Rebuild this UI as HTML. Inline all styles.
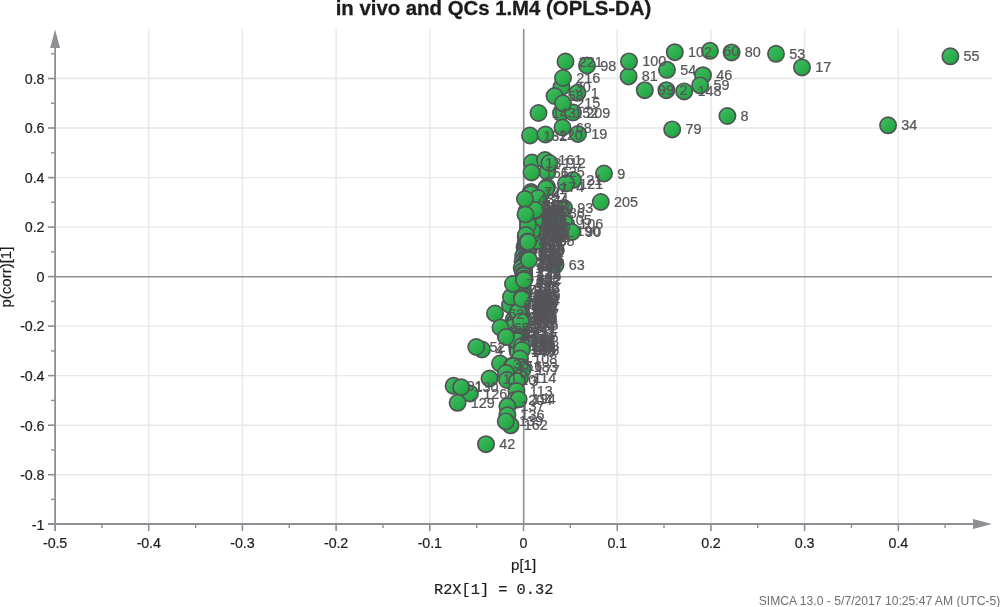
<!DOCTYPE html>
<html lang="en"><head><meta charset="utf-8"><title>in vivo and QCs 1.M4 (OPLS-DA)</title>
<style>html,body{margin:0;padding:0;background:#fff;}body{width:1000px;height:607px;overflow:hidden;}svg{display:block;}text{font-family:"Liberation Sans",sans-serif;}.tk{font-size:15.4px;letter-spacing:-0.15px;fill:#1e1e1e;stroke:#1e1e1e;stroke-width:0.2px;}.lb{font-size:15.5px;letter-spacing:0px;fill:#56565a;stroke:#56565a;stroke-width:0.25px;}.al{font-size:15px;fill:#1e1e1e;stroke:#1e1e1e;stroke-width:0.2px;}.mono{font-family:"Liberation Mono",monospace;}</style></head><body>
<svg width="1000" height="607" viewBox="0 0 1000 607">
<defs><linearGradient id="g" x1="0.15" y1="0.1" x2="0.85" y2="0.9"><stop offset="0" stop-color="#3fbb60"/><stop offset="1" stop-color="#1ea63e"/></linearGradient></defs>
<rect width="1000" height="607" fill="#fff"/>
<g stroke="#e6e8e9" stroke-width="1.4" fill="none">
<line x1="148.7" y1="29" x2="148.7" y2="524"/>
<line x1="242.4" y1="29" x2="242.4" y2="524"/>
<line x1="336.1" y1="29" x2="336.1" y2="524"/>
<line x1="429.8" y1="29" x2="429.8" y2="524"/>
<line x1="617.2" y1="29" x2="617.2" y2="524"/>
<line x1="710.9" y1="29" x2="710.9" y2="524"/>
<line x1="804.6" y1="29" x2="804.6" y2="524"/>
<line x1="898.3" y1="29" x2="898.3" y2="524"/>
<line x1="55" y1="474.7" x2="992" y2="474.7"/>
<line x1="55" y1="425.2" x2="992" y2="425.2"/>
<line x1="55" y1="375.6" x2="992" y2="375.6"/>
<line x1="55" y1="326.1" x2="992" y2="326.1"/>
<line x1="55" y1="227.1" x2="992" y2="227.1"/>
<line x1="55" y1="177.6" x2="992" y2="177.6"/>
<line x1="55" y1="128.0" x2="992" y2="128.0"/>
<line x1="55" y1="78.5" x2="992" y2="78.5"/>
</g>
<g stroke="#8e8f94" fill="none">
<line x1="523.7" y1="29" x2="523.7" y2="524" stroke-width="1.6"/>
<line x1="55" y1="276.7" x2="992" y2="276.7" stroke-width="1.4"/>
<line x1="55.1" y1="46" x2="55.1" y2="531" stroke-width="1.8"/>
<line x1="48" y1="524.0" x2="975" y2="524.0" stroke-width="1.9"/>
<line x1="101.9" y1="524" x2="101.9" y2="528" stroke-width="1.4"/>
<line x1="148.7" y1="524" x2="148.7" y2="531" stroke-width="1.6"/>
<line x1="195.6" y1="524" x2="195.6" y2="528" stroke-width="1.4"/>
<line x1="242.4" y1="524" x2="242.4" y2="531" stroke-width="1.6"/>
<line x1="289.3" y1="524" x2="289.3" y2="528" stroke-width="1.4"/>
<line x1="336.1" y1="524" x2="336.1" y2="531" stroke-width="1.6"/>
<line x1="383.0" y1="524" x2="383.0" y2="528" stroke-width="1.4"/>
<line x1="429.8" y1="524" x2="429.8" y2="531" stroke-width="1.6"/>
<line x1="476.7" y1="524" x2="476.7" y2="528" stroke-width="1.4"/>
<line x1="523.5" y1="524" x2="523.5" y2="531" stroke-width="1.6"/>
<line x1="570.3" y1="524" x2="570.3" y2="528" stroke-width="1.4"/>
<line x1="617.2" y1="524" x2="617.2" y2="531" stroke-width="1.6"/>
<line x1="664.0" y1="524" x2="664.0" y2="528" stroke-width="1.4"/>
<line x1="710.9" y1="524" x2="710.9" y2="531" stroke-width="1.6"/>
<line x1="757.7" y1="524" x2="757.7" y2="528" stroke-width="1.4"/>
<line x1="804.6" y1="524" x2="804.6" y2="531" stroke-width="1.6"/>
<line x1="851.4" y1="524" x2="851.4" y2="528" stroke-width="1.4"/>
<line x1="898.3" y1="524" x2="898.3" y2="531" stroke-width="1.6"/>
<line x1="945.1" y1="524" x2="945.1" y2="528" stroke-width="1.4"/>
<line x1="51" y1="499.4" x2="55" y2="499.4" stroke-width="1.4"/>
<line x1="48" y1="474.7" x2="55" y2="474.7" stroke-width="1.6"/>
<line x1="51" y1="449.9" x2="55" y2="449.9" stroke-width="1.4"/>
<line x1="48" y1="425.2" x2="55" y2="425.2" stroke-width="1.6"/>
<line x1="51" y1="400.4" x2="55" y2="400.4" stroke-width="1.4"/>
<line x1="48" y1="375.6" x2="55" y2="375.6" stroke-width="1.6"/>
<line x1="51" y1="350.9" x2="55" y2="350.9" stroke-width="1.4"/>
<line x1="48" y1="326.1" x2="55" y2="326.1" stroke-width="1.6"/>
<line x1="51" y1="301.4" x2="55" y2="301.4" stroke-width="1.4"/>
<line x1="48" y1="276.6" x2="55" y2="276.6" stroke-width="1.6"/>
<line x1="51" y1="251.8" x2="55" y2="251.8" stroke-width="1.4"/>
<line x1="48" y1="227.1" x2="55" y2="227.1" stroke-width="1.6"/>
<line x1="51" y1="202.3" x2="55" y2="202.3" stroke-width="1.4"/>
<line x1="48" y1="177.6" x2="55" y2="177.6" stroke-width="1.6"/>
<line x1="51" y1="152.8" x2="55" y2="152.8" stroke-width="1.4"/>
<line x1="48" y1="128.0" x2="55" y2="128.0" stroke-width="1.6"/>
<line x1="51" y1="103.3" x2="55" y2="103.3" stroke-width="1.4"/>
<line x1="48" y1="78.5" x2="55" y2="78.5" stroke-width="1.6"/>
<line x1="51" y1="53.8" x2="55" y2="53.8" stroke-width="1.4"/>
</g>
<polygon points="55.1,29.5 50.2,48 60,48" fill="#8e8f94"/>
<polygon points="992,524 973,519 973,529" fill="#8e8f94"/>
<g class="tk" text-anchor="middle">
<text transform="translate(55.1 548.3) scale(.93 1)">-0.5</text>
<text transform="translate(148.7 548.3) scale(.93 1)">-0.4</text>
<text transform="translate(242.4 548.3) scale(.93 1)">-0.3</text>
<text transform="translate(336.1 548.3) scale(.93 1)">-0.2</text>
<text transform="translate(429.8 548.3) scale(.93 1)">-0.1</text>
<text transform="translate(523.5 548.3) scale(.93 1)">0</text>
<text transform="translate(617.2 548.3) scale(.93 1)">0.1</text>
<text transform="translate(710.9 548.3) scale(.93 1)">0.2</text>
<text transform="translate(804.6 548.3) scale(.93 1)">0.3</text>
<text transform="translate(898.3 548.3) scale(.93 1)">0.4</text>
</g>
<g class="tk" text-anchor="end">
<text transform="translate(44.3 529.5) scale(.93 1)">-1</text>
<text transform="translate(44.3 480.0) scale(.93 1)">-0.8</text>
<text transform="translate(44.3 430.5) scale(.93 1)">-0.6</text>
<text transform="translate(44.3 380.9) scale(.93 1)">-0.4</text>
<text transform="translate(44.3 331.4) scale(.93 1)">-0.2</text>
<text transform="translate(44.3 281.9) scale(.93 1)">0</text>
<text transform="translate(44.3 232.4) scale(.93 1)">0.2</text>
<text transform="translate(44.3 182.9) scale(.93 1)">0.4</text>
<text transform="translate(44.3 133.3) scale(.93 1)">0.6</text>
<text transform="translate(44.3 83.8) scale(.93 1)">0.8</text>
</g>
<text x="335.7" y="14.7" font-size="19.3px" font-weight="bold" fill="#1c1c1c" stroke="#1c1c1c" stroke-width="0.3" textLength="315.5" lengthAdjust="spacingAndGlyphs">in vivo and QCs 1.M4 (OPLS-DA)</text>
<text class="al" x="523.6" y="569.6" text-anchor="middle">p[1]</text>
<text class="al" transform="translate(11.0,277.1) rotate(-90)" text-anchor="middle">p(corr)[1]</text>
<text class="mono" x="434.0" y="593.5" font-size="15.3px" fill="#1e1e1e" stroke="#1e1e1e" stroke-width="0.2">R2X[1] = 0.32</text>
<text x="1000.3" y="605" font-size="12.15px" fill="#707070" text-anchor="end">SIMCA 13.0 - 5/7/2017 10:25:47 AM (UTC-5)</text>
<g fill="url(#g)" stroke="#525357" stroke-width="1.7">
<circle cx="531.7" cy="204.7" r="8.15"/>
<circle cx="530.8" cy="205.4" r="8.15"/>
<circle cx="534.5" cy="206.9" r="8.15"/>
<circle cx="529.6" cy="207.5" r="8.15"/>
<circle cx="529.1" cy="209.0" r="8.15"/>
<circle cx="529.8" cy="210.4" r="8.15"/>
<circle cx="526.6" cy="211.3" r="8.15"/>
<circle cx="529.8" cy="212.4" r="8.15"/>
<circle cx="527.8" cy="213.2" r="8.15"/>
<circle cx="529.8" cy="214.1" r="8.15"/>
<circle cx="535.2" cy="215.4" r="8.15"/>
<circle cx="529.8" cy="216.6" r="8.15"/>
<circle cx="529.4" cy="217.8" r="8.15"/>
<circle cx="528.9" cy="218.9" r="8.15"/>
<circle cx="527.8" cy="220.0" r="8.15"/>
<circle cx="528.4" cy="221.4" r="8.15"/>
<circle cx="529.6" cy="221.9" r="8.15"/>
<circle cx="529.8" cy="223.1" r="8.15"/>
<circle cx="528.9" cy="224.3" r="8.15"/>
<circle cx="531.0" cy="225.5" r="8.15"/>
<circle cx="533.6" cy="226.6" r="8.15"/>
<circle cx="529.5" cy="227.5" r="8.15"/>
<circle cx="528.0" cy="228.5" r="8.15"/>
<circle cx="529.2" cy="229.8" r="8.15"/>
<circle cx="530.2" cy="231.1" r="8.15"/>
<circle cx="529.8" cy="232.2" r="8.15"/>
<circle cx="529.6" cy="233.2" r="8.15"/>
<circle cx="527.1" cy="233.8" r="8.15"/>
<circle cx="527.9" cy="235.0" r="8.15"/>
<circle cx="525.7" cy="236.7" r="8.15"/>
<circle cx="526.1" cy="237.3" r="8.15"/>
<circle cx="533.3" cy="238.6" r="8.15"/>
<circle cx="527.4" cy="239.4" r="8.15"/>
<circle cx="529.5" cy="240.8" r="8.15"/>
<circle cx="526.2" cy="241.7" r="8.15"/>
<circle cx="526.0" cy="243.0" r="8.15"/>
<circle cx="527.0" cy="244.1" r="8.15"/>
<circle cx="526.7" cy="244.6" r="8.15"/>
<circle cx="525.2" cy="246.1" r="8.15"/>
<circle cx="524.6" cy="247.2" r="8.15"/>
<circle cx="525.8" cy="248.0" r="8.15"/>
<circle cx="528.8" cy="249.6" r="8.15"/>
<circle cx="526.7" cy="250.2" r="8.15"/>
<circle cx="527.6" cy="251.2" r="8.15"/>
<circle cx="524.9" cy="252.9" r="8.15"/>
<circle cx="527.0" cy="253.4" r="8.15"/>
<circle cx="524.2" cy="255.2" r="8.15"/>
<circle cx="523.3" cy="256.2" r="8.15"/>
<circle cx="526.2" cy="256.7" r="8.15"/>
<circle cx="526.4" cy="258.4" r="8.15"/>
<circle cx="525.5" cy="259.5" r="8.15"/>
<circle cx="527.3" cy="260.0" r="8.15"/>
<circle cx="522.6" cy="261.5" r="8.15"/>
<circle cx="525.2" cy="262.1" r="8.15"/>
<circle cx="524.4" cy="263.3" r="8.15"/>
<circle cx="524.7" cy="264.3" r="8.15"/>
<circle cx="524.6" cy="266.2" r="8.15"/>
<circle cx="523.9" cy="267.2" r="8.15"/>
<circle cx="521.7" cy="267.8" r="8.15"/>
<circle cx="523.7" cy="270.6" r="8.15"/>
<circle cx="522.7" cy="271.5" r="8.15"/>
<circle cx="524.3" cy="273.7" r="8.15"/>
<circle cx="524.0" cy="275.8" r="8.15"/>
<circle cx="524.5" cy="278.6" r="8.15"/>
<circle cx="523.3" cy="279.7" r="8.15"/>
<circle cx="522.8" cy="282.3" r="8.15"/>
<circle cx="522.6" cy="283.4" r="8.15"/>
<circle cx="521.9" cy="286.7" r="8.15"/>
<circle cx="522.3" cy="287.7" r="8.15"/>
<circle cx="522.9" cy="289.6" r="8.15"/>
<circle cx="518.1" cy="292.1" r="8.15"/>
<circle cx="523.3" cy="292.5" r="8.15"/>
<circle cx="519.5" cy="293.5" r="8.15"/>
<circle cx="521.7" cy="294.3" r="8.15"/>
<circle cx="523.1" cy="295.7" r="8.15"/>
<circle cx="520.3" cy="296.2" r="8.15"/>
<circle cx="517.4" cy="297.2" r="8.15"/>
<circle cx="521.8" cy="297.8" r="8.15"/>
<circle cx="519.6" cy="298.8" r="8.15"/>
<circle cx="521.1" cy="299.6" r="8.15"/>
<circle cx="522.9" cy="300.3" r="8.15"/>
<circle cx="517.8" cy="301.6" r="8.15"/>
<circle cx="517.5" cy="302.7" r="8.15"/>
<circle cx="521.1" cy="303.4" r="8.15"/>
<circle cx="515.0" cy="304.0" r="8.15"/>
<circle cx="521.7" cy="305.4" r="8.15"/>
<circle cx="520.0" cy="305.9" r="8.15"/>
<circle cx="520.8" cy="306.9" r="8.15"/>
<circle cx="518.3" cy="307.8" r="8.15"/>
<circle cx="518.7" cy="308.4" r="8.15"/>
<circle cx="516.4" cy="309.2" r="8.15"/>
<circle cx="519.3" cy="310.6" r="8.15"/>
<circle cx="518.8" cy="310.8" r="8.15"/>
<circle cx="518.7" cy="311.7" r="8.15"/>
<circle cx="517.1" cy="312.9" r="8.15"/>
<circle cx="519.2" cy="313.9" r="8.15"/>
<circle cx="521.6" cy="314.5" r="8.15"/>
<circle cx="520.3" cy="315.9" r="8.15"/>
<circle cx="518.9" cy="316.1" r="8.15"/>
<circle cx="515.6" cy="317.0" r="8.15"/>
<circle cx="520.2" cy="318.0" r="8.15"/>
<circle cx="519.4" cy="318.8" r="8.15"/>
<circle cx="513.6" cy="319.9" r="8.15"/>
<circle cx="516.2" cy="321.1" r="8.15"/>
<circle cx="517.9" cy="321.9" r="8.15"/>
<circle cx="514.7" cy="322.6" r="8.15"/>
<circle cx="520.6" cy="323.2" r="8.15"/>
<circle cx="517.7" cy="324.3" r="8.15"/>
<circle cx="521.3" cy="325.2" r="8.15"/>
<circle cx="514.1" cy="326.3" r="8.15"/>
<circle cx="518.5" cy="327.1" r="8.15"/>
<circle cx="512.3" cy="327.5" r="8.15"/>
<circle cx="517.7" cy="332.2" r="8.15"/>
<circle cx="518.1" cy="334.6" r="8.15"/>
<circle cx="521.2" cy="336.6" r="8.15"/>
<circle cx="519.7" cy="337.3" r="8.15"/>
<circle cx="516.0" cy="338.8" r="8.15"/>
<circle cx="518.6" cy="339.4" r="8.15"/>
<circle cx="517.3" cy="340.4" r="8.15"/>
<circle cx="516.9" cy="341.2" r="8.15"/>
<circle cx="516.2" cy="342.4" r="8.15"/>
<circle cx="518.4" cy="343.4" r="8.15"/>
<circle cx="517.3" cy="344.7" r="8.15"/>
<circle cx="517.3" cy="345.5" r="8.15"/>
<circle cx="518.0" cy="346.2" r="8.15"/>
<circle cx="519.1" cy="347.4" r="8.15"/>
<circle cx="519.1" cy="348.7" r="8.15"/>
<circle cx="517.4" cy="349.2" r="8.15"/>
<circle cx="518.7" cy="350.3" r="8.15"/>
<circle cx="517.9" cy="351.9" r="8.15"/>
<circle cx="537.4" cy="241.0" r="8.15"/>
<circle cx="530.7" cy="210.7" r="8.15"/>
<circle cx="532.1" cy="234.9" r="8.15"/>
<circle cx="534.8" cy="220.9" r="8.15"/>
<circle cx="532.2" cy="230.7" r="8.15"/>
<circle cx="532.9" cy="212.1" r="8.15"/>
<circle cx="561.5" cy="87.0" r="8.15"/>
<circle cx="554.5" cy="96.0" r="8.15"/>
<circle cx="577.5" cy="92.8" r="8.15"/>
<circle cx="563.0" cy="78.0" r="8.15"/>
<circle cx="565.5" cy="61.5" r="8.15"/>
<circle cx="587.0" cy="65.5" r="8.15"/>
<circle cx="561.0" cy="113.0" r="8.15"/>
<circle cx="573.0" cy="112.5" r="8.15"/>
<circle cx="563.0" cy="103.3" r="8.15"/>
<circle cx="538.5" cy="113.0" r="8.15"/>
<circle cx="578.0" cy="134.0" r="8.15"/>
<circle cx="562.5" cy="127.5" r="8.15"/>
<circle cx="530.0" cy="135.5" r="8.15"/>
<circle cx="545.5" cy="134.5" r="8.15"/>
<circle cx="628.6" cy="76.4" r="8.15"/>
<circle cx="629.0" cy="61.4" r="8.15"/>
<circle cx="667.0" cy="69.8" r="8.15"/>
<circle cx="644.8" cy="90.2" r="8.15"/>
<circle cx="666.4" cy="90.2" r="8.15"/>
<circle cx="684.2" cy="91.4" r="8.15"/>
<circle cx="703.0" cy="75.2" r="8.15"/>
<circle cx="700.2" cy="85.4" r="8.15"/>
<circle cx="674.8" cy="52.2" r="8.15"/>
<circle cx="710.0" cy="50.8" r="8.15"/>
<circle cx="731.6" cy="52.4" r="8.15"/>
<circle cx="776.0" cy="53.8" r="8.15"/>
<circle cx="802.0" cy="67.4" r="8.15"/>
<circle cx="950.4" cy="56.3" r="8.15"/>
<circle cx="888.1" cy="125.3" r="8.15"/>
<circle cx="727.4" cy="116.0" r="8.15"/>
<circle cx="672.2" cy="129.4" r="8.15"/>
<circle cx="532.0" cy="162.5" r="8.15"/>
<circle cx="545.0" cy="160.0" r="8.15"/>
<circle cx="547.5" cy="172.0" r="8.15"/>
<circle cx="549.5" cy="163.0" r="8.15"/>
<circle cx="531.5" cy="172.5" r="8.15"/>
<circle cx="573.0" cy="180.0" r="8.15"/>
<circle cx="566.0" cy="183.5" r="8.15"/>
<circle cx="547.0" cy="187.0" r="8.15"/>
<circle cx="604.0" cy="173.5" r="8.15"/>
<circle cx="600.8" cy="202.0" r="8.15"/>
<circle cx="531.0" cy="192.0" r="8.15"/>
<circle cx="539.0" cy="200.0" r="8.15"/>
<circle cx="546.0" cy="188.5" r="8.15"/>
<circle cx="555.5" cy="265.0" r="8.15"/>
<circle cx="564.0" cy="208.0" r="8.15"/>
<circle cx="555.5" cy="213.0" r="8.15"/>
<circle cx="566.0" cy="224.0" r="8.15"/>
<circle cx="563.0" cy="230.5" r="8.15"/>
<circle cx="572.0" cy="232.0" r="8.15"/>
<circle cx="554.5" cy="219.5" r="8.15"/>
<circle cx="482.0" cy="349.5" r="8.15"/>
<circle cx="476.3" cy="347.0" r="8.15"/>
<circle cx="495.0" cy="313.5" r="8.15"/>
<circle cx="510.0" cy="305.0" r="8.15"/>
<circle cx="518.0" cy="312.0" r="8.15"/>
<circle cx="521.0" cy="321.5" r="8.15"/>
<circle cx="506.0" cy="336.0" r="8.15"/>
<circle cx="500.5" cy="327.5" r="8.15"/>
<circle cx="517.0" cy="341.0" r="8.15"/>
<circle cx="522.0" cy="346.0" r="8.15"/>
<circle cx="506.0" cy="337.0" r="8.15"/>
<circle cx="500.0" cy="363.5" r="8.15"/>
<circle cx="522.0" cy="350.0" r="8.15"/>
<circle cx="520.0" cy="358.5" r="8.15"/>
<circle cx="520.5" cy="367.0" r="8.15"/>
<circle cx="522.5" cy="370.0" r="8.15"/>
<circle cx="512.0" cy="366.0" r="8.15"/>
<circle cx="513.0" cy="366.0" r="8.15"/>
<circle cx="506.0" cy="373.0" r="8.15"/>
<circle cx="507.0" cy="380.0" r="8.15"/>
<circle cx="489.5" cy="378.5" r="8.15"/>
<circle cx="520.0" cy="378.0" r="8.15"/>
<circle cx="517.0" cy="381.0" r="8.15"/>
<circle cx="470.0" cy="393.5" r="8.15"/>
<circle cx="453.6" cy="385.8" r="8.15"/>
<circle cx="461.2" cy="387.2" r="8.15"/>
<circle cx="457.6" cy="402.8" r="8.15"/>
<circle cx="516.5" cy="391.0" r="8.15"/>
<circle cx="515.0" cy="400.0" r="8.15"/>
<circle cx="518.6" cy="399.3" r="8.15"/>
<circle cx="507.4" cy="406.3" r="8.15"/>
<circle cx="507.4" cy="415.2" r="8.15"/>
<circle cx="510.6" cy="425.3" r="8.15"/>
<circle cx="505.8" cy="421.4" r="8.15"/>
<circle cx="486.0" cy="444.2" r="8.15"/>
<circle cx="515.0" cy="290.0" r="8.15"/>
<circle cx="511.0" cy="297.0" r="8.15"/>
<circle cx="513.0" cy="284.0" r="8.15"/>
<circle cx="531.0" cy="194.0" r="8.15"/>
<circle cx="538.0" cy="198.0" r="8.15"/>
<circle cx="535.0" cy="210.0" r="8.15"/>
<circle cx="528.0" cy="225.0" r="8.15"/>
<circle cx="526.0" cy="235.0" r="8.15"/>
<circle cx="525.0" cy="199.0" r="8.15"/>
<circle cx="525.5" cy="214.5" r="8.15"/>
<circle cx="527.5" cy="241.5" r="8.15"/>
<circle cx="528.0" cy="242.0" r="8.15"/>
<circle cx="529.0" cy="260.0" r="8.15"/>
<circle cx="524.0" cy="280.0" r="8.15"/>
<circle cx="522.0" cy="297.5" r="8.15"/>
<circle cx="522.0" cy="299.0" r="8.15"/>
</g>
<g class="lb">
<text transform="translate(544.9 209.7) scale(.93 1)">172</text>
<text transform="translate(544.0 210.4) scale(.93 1)">109</text>
<text transform="translate(547.7 211.9) scale(.93 1)">197</text>
<text transform="translate(542.8 212.5) scale(.93 1)">41</text>
<text transform="translate(542.3 214.0) scale(.93 1)">75</text>
<text transform="translate(543.0 215.4) scale(.93 1)">84</text>
<text transform="translate(539.8 216.3) scale(.93 1)">187</text>
<text transform="translate(543.0 217.4) scale(.93 1)">48</text>
<text transform="translate(541.0 218.2) scale(.93 1)">135</text>
<text transform="translate(543.0 219.1) scale(.93 1)">32</text>
<text transform="translate(548.4 220.4) scale(.93 1)">37</text>
<text transform="translate(543.0 221.6) scale(.93 1)">138</text>
<text transform="translate(542.6 222.8) scale(.93 1)">134</text>
<text transform="translate(542.1 223.9) scale(.93 1)">29</text>
<text transform="translate(541.0 225.0) scale(.93 1)">94</text>
<text transform="translate(541.6 226.4) scale(.93 1)">229</text>
<text transform="translate(542.8 226.9) scale(.93 1)">158</text>
<text transform="translate(543.0 228.1) scale(.93 1)">231</text>
<text transform="translate(542.1 229.3) scale(.93 1)">26</text>
<text transform="translate(544.2 230.5) scale(.93 1)">202</text>
<text transform="translate(546.8 231.6) scale(.93 1)">160</text>
<text transform="translate(542.7 232.5) scale(.93 1)">49</text>
<text transform="translate(541.2 233.5) scale(.93 1)">89</text>
<text transform="translate(542.4 234.8) scale(.93 1)">170</text>
<text transform="translate(543.4 236.1) scale(.93 1)">213</text>
<text transform="translate(543.0 237.2) scale(.93 1)">164</text>
<text transform="translate(542.8 238.2) scale(.93 1)">220</text>
<text transform="translate(540.3 238.8) scale(.93 1)">163</text>
<text transform="translate(541.1 240.0) scale(.93 1)">211</text>
<text transform="translate(538.9 241.7) scale(.93 1)">128</text>
<text transform="translate(539.3 242.3) scale(.93 1)">25</text>
<text transform="translate(546.5 243.6) scale(.93 1)">214</text>
<text transform="translate(540.6 244.4) scale(.93 1)">23</text>
<text transform="translate(542.7 245.8) scale(.93 1)">159</text>
<text transform="translate(539.4 246.7) scale(.93 1)">56</text>
<text transform="translate(539.2 248.0) scale(.93 1)">107</text>
<text transform="translate(540.2 249.1) scale(.93 1)">227</text>
<text transform="translate(539.9 249.6) scale(.93 1)">235</text>
<text transform="translate(538.4 251.1) scale(.93 1)">157</text>
<text transform="translate(537.8 252.2) scale(.93 1)">217</text>
<text transform="translate(539.0 253.0) scale(.93 1)">208</text>
<text transform="translate(542.0 254.6) scale(.93 1)">110</text>
<text transform="translate(539.9 255.2) scale(.93 1)">200</text>
<text transform="translate(540.8 256.2) scale(.93 1)">180</text>
<text transform="translate(538.1 257.9) scale(.93 1)">83</text>
<text transform="translate(540.2 258.4) scale(.93 1)">44</text>
<text transform="translate(537.4 260.2) scale(.93 1)">207</text>
<text transform="translate(536.5 261.2) scale(.93 1)">191</text>
<text transform="translate(539.4 261.7) scale(.93 1)">171</text>
<text transform="translate(539.6 263.4) scale(.93 1)">234</text>
<text transform="translate(538.7 264.5) scale(.93 1)">123</text>
<text transform="translate(540.5 265.0) scale(.93 1)">236</text>
<text transform="translate(535.8 266.5) scale(.93 1)">223</text>
<text transform="translate(538.4 267.1) scale(.93 1)">226</text>
<text transform="translate(537.6 268.3) scale(.93 1)">218</text>
<text transform="translate(537.9 269.3) scale(.93 1)">210</text>
<text transform="translate(537.8 271.2) scale(.93 1)">169</text>
<text transform="translate(537.1 272.2) scale(.93 1)">87</text>
<text transform="translate(534.9 272.8) scale(.93 1)">149</text>
<text transform="translate(536.9 275.6) scale(.93 1)">155</text>
<text transform="translate(535.9 276.5) scale(.93 1)">222</text>
<text transform="translate(537.5 278.7) scale(.93 1)">111</text>
<text transform="translate(537.2 280.8) scale(.93 1)">144</text>
<text transform="translate(537.7 283.6) scale(.93 1)">142</text>
<text transform="translate(536.5 284.7) scale(.93 1)">122</text>
<text transform="translate(536.0 287.3) scale(.93 1)">238</text>
<text transform="translate(535.8 288.4) scale(.93 1)">95</text>
<text transform="translate(535.1 291.7) scale(.93 1)">186</text>
<text transform="translate(535.5 292.7) scale(.93 1)">175</text>
<text transform="translate(536.1 294.6) scale(.93 1)">36</text>
<text transform="translate(531.3 297.1) scale(.93 1)">188</text>
<text transform="translate(536.5 297.5) scale(.93 1)">168</text>
<text transform="translate(532.7 298.5) scale(.93 1)">117</text>
<text transform="translate(534.9 299.3) scale(.93 1)">141</text>
<text transform="translate(536.3 300.7) scale(.93 1)">195</text>
<text transform="translate(533.5 301.2) scale(.93 1)">153</text>
<text transform="translate(530.6 302.2) scale(.93 1)">22</text>
<text transform="translate(535.0 302.8) scale(.93 1)">181</text>
<text transform="translate(532.8 303.8) scale(.93 1)">96</text>
<text transform="translate(534.3 304.6) scale(.93 1)">212</text>
<text transform="translate(536.1 305.3) scale(.93 1)">154</text>
<text transform="translate(531.0 306.6) scale(.93 1)">124</text>
<text transform="translate(530.7 307.7) scale(.93 1)">78</text>
<text transform="translate(534.3 308.4) scale(.93 1)">230</text>
<text transform="translate(528.2 309.0) scale(.93 1)">167</text>
<text transform="translate(534.9 310.4) scale(.93 1)">151</text>
<text transform="translate(533.2 310.9) scale(.93 1)">18</text>
<text transform="translate(534.0 311.9) scale(.93 1)">116</text>
<text transform="translate(531.5 312.8) scale(.93 1)">145</text>
<text transform="translate(531.9 313.4) scale(.93 1)">103</text>
<text transform="translate(529.6 314.2) scale(.93 1)">104</text>
<text transform="translate(532.5 315.6) scale(.93 1)">77</text>
<text transform="translate(532.0 315.8) scale(.93 1)">166</text>
<text transform="translate(531.9 316.7) scale(.93 1)">82</text>
<text transform="translate(530.3 317.9) scale(.93 1)">146</text>
<text transform="translate(532.4 318.9) scale(.93 1)">133</text>
<text transform="translate(534.8 319.5) scale(.93 1)">237</text>
<text transform="translate(533.5 320.9) scale(.93 1)">92</text>
<text transform="translate(532.1 321.1) scale(.93 1)">228</text>
<text transform="translate(528.8 322.0) scale(.93 1)">201</text>
<text transform="translate(533.4 323.0) scale(.93 1)">199</text>
<text transform="translate(532.6 323.8) scale(.93 1)">225</text>
<text transform="translate(526.8 324.9) scale(.93 1)">127</text>
<text transform="translate(529.4 326.1) scale(.93 1)">20</text>
<text transform="translate(531.1 326.9) scale(.93 1)">76</text>
<text transform="translate(527.9 327.6) scale(.93 1)">219</text>
<text transform="translate(533.8 328.2) scale(.93 1)">196</text>
<text transform="translate(530.9 329.3) scale(.93 1)">150</text>
<text transform="translate(534.5 330.2) scale(.93 1)">176</text>
<text transform="translate(527.3 331.3) scale(.93 1)">118</text>
<text transform="translate(531.7 332.1) scale(.93 1)">224</text>
<text transform="translate(525.5 332.5) scale(.93 1)">12</text>
<text transform="translate(530.9 337.2) scale(.93 1)">232</text>
<text transform="translate(531.3 339.6) scale(.93 1)">131</text>
<text transform="translate(534.4 341.6) scale(.93 1)">165</text>
<text transform="translate(532.9 342.3) scale(.93 1)">182</text>
<text transform="translate(529.2 343.8) scale(.93 1)">97</text>
<text transform="translate(531.8 344.4) scale(.93 1)">192</text>
<text transform="translate(530.5 345.4) scale(.93 1)">15</text>
<text transform="translate(530.1 346.2) scale(.93 1)">203</text>
<text transform="translate(529.4 347.4) scale(.93 1)">179</text>
<text transform="translate(531.6 348.4) scale(.93 1)">101</text>
<text transform="translate(530.5 349.7) scale(.93 1)">193</text>
<text transform="translate(530.5 350.5) scale(.93 1)">119</text>
<text transform="translate(531.2 351.2) scale(.93 1)">239</text>
<text transform="translate(532.3 352.4) scale(.93 1)">115</text>
<text transform="translate(532.3 353.7) scale(.93 1)">184</text>
<text transform="translate(530.6 354.2) scale(.93 1)">147</text>
<text transform="translate(531.9 355.3) scale(.93 1)">206</text>
<text transform="translate(531.1 356.9) scale(.93 1)">140</text>
<text transform="translate(550.6 246.0) scale(.93 1)">185</text>
<text transform="translate(543.9 215.7) scale(.93 1)">88</text>
<text transform="translate(545.3 239.9) scale(.93 1)">173</text>
<text transform="translate(548.0 225.9) scale(.93 1)">50</text>
<text transform="translate(545.4 235.7) scale(.93 1)">233</text>
<text transform="translate(546.1 217.1) scale(.93 1)">189</text>
<text transform="translate(574.7 92.0) scale(.93 1)">30</text>
<text transform="translate(567.7 101.0) scale(.93 1)">58</text>
<text transform="translate(590.7 97.8) scale(.93 1)">1</text>
<text transform="translate(576.2 83.0) scale(.93 1)">216</text>
<text transform="translate(578.7 66.5) scale(.93 1)">221</text>
<text transform="translate(600.2 70.5) scale(.93 1)">98</text>
<text transform="translate(574.2 118.0) scale(.93 1)">152</text>
<text transform="translate(586.2 117.5) scale(.93 1)">209</text>
<text transform="translate(576.2 108.3) scale(.93 1)">215</text>
<text transform="translate(551.7 118.0) scale(.93 1)">143</text>
<text transform="translate(591.2 139.0) scale(.93 1)">19</text>
<text transform="translate(575.7 132.5) scale(.93 1)">68</text>
<text transform="translate(543.2 140.5) scale(.93 1)">132</text>
<text transform="translate(558.7 139.5) scale(.93 1)">120</text>
<text transform="translate(641.8 81.4) scale(.93 1)">81</text>
<text transform="translate(642.2 66.4) scale(.93 1)">100</text>
<text transform="translate(680.2 74.8) scale(.93 1)">54</text>
<text transform="translate(658.0 95.2) scale(.93 1)">99</text>
<text transform="translate(679.6 95.2) scale(.93 1)">2</text>
<text transform="translate(697.4 96.4) scale(.93 1)">148</text>
<text transform="translate(716.2 80.2) scale(.93 1)">46</text>
<text transform="translate(713.4 90.4) scale(.93 1)">59</text>
<text transform="translate(688.0 57.2) scale(.93 1)">102</text>
<text transform="translate(723.2 55.8) scale(.93 1)">60</text>
<text transform="translate(744.8 57.4) scale(.93 1)">80</text>
<text transform="translate(789.2 58.8) scale(.93 1)">53</text>
<text transform="translate(815.2 72.4) scale(.93 1)">17</text>
<text transform="translate(963.6 61.3) scale(.93 1)">55</text>
<text transform="translate(901.3 130.3) scale(.93 1)">34</text>
<text transform="translate(740.6 121.0) scale(.93 1)">8</text>
<text transform="translate(685.4 134.4) scale(.93 1)">79</text>
<text transform="translate(545.2 167.5) scale(.93 1)">13</text>
<text transform="translate(558.2 165.0) scale(.93 1)">161</text>
<text transform="translate(560.7 177.0) scale(.93 1)">125</text>
<text transform="translate(562.7 168.0) scale(.93 1)">112</text>
<text transform="translate(544.7 177.5) scale(.93 1)">156</text>
<text transform="translate(586.2 185.0) scale(.93 1)">21</text>
<text transform="translate(579.2 188.5) scale(.93 1)">121</text>
<text transform="translate(560.2 192.0) scale(.93 1)">174</text>
<text transform="translate(617.2 178.5) scale(.93 1)">9</text>
<text transform="translate(614.0 207.0) scale(.93 1)">205</text>
<text transform="translate(544.2 197.0) scale(.93 1)">72</text>
<text transform="translate(552.2 205.0) scale(.93 1)">24</text>
<text transform="translate(559.2 193.5) scale(.93 1)">7</text>
<text transform="translate(568.7 270.0) scale(.93 1)">63</text>
<text transform="translate(577.2 213.0) scale(.93 1)">93</text>
<text transform="translate(568.7 218.0) scale(.93 1)">86</text>
<text transform="translate(579.2 229.0) scale(.93 1)">106</text>
<text transform="translate(576.2 235.5) scale(.93 1)">190</text>
<text transform="translate(585.2 237.0) scale(.93 1)">90</text>
<text transform="translate(567.7 224.5) scale(.93 1)">105</text>
<text transform="translate(495.2 354.5) scale(.93 1)">4</text>
<text transform="translate(489.5 352.0) scale(.93 1)">52</text>
<text transform="translate(508.2 318.5) scale(.93 1)">62</text>
<text transform="translate(523.2 310.0) scale(.93 1)">66</text>
<text transform="translate(531.2 317.0) scale(.93 1)">40</text>
<text transform="translate(534.2 326.5) scale(.93 1)">70</text>
<text transform="translate(519.2 341.0) scale(.93 1)">28</text>
<text transform="translate(513.7 332.5) scale(.93 1)">65</text>
<text transform="translate(530.2 346.0) scale(.93 1)">33</text>
<text transform="translate(535.2 351.0) scale(.93 1)">178</text>
<text transform="translate(519.2 342.0) scale(.93 1)">45</text>
<text transform="translate(513.2 368.5) scale(.93 1)">38</text>
<text transform="translate(535.2 355.0) scale(.93 1)">198</text>
<text transform="translate(533.2 363.5) scale(.93 1)">108</text>
<text transform="translate(533.7 372.0) scale(.93 1)">183</text>
<text transform="translate(535.7 375.0) scale(.93 1)">177</text>
<text transform="translate(525.2 371.0) scale(.93 1)">5</text>
<text transform="translate(526.2 371.0) scale(.93 1)">16</text>
<text transform="translate(519.2 378.0) scale(.93 1)">6</text>
<text transform="translate(520.2 385.0) scale(.93 1)">10</text>
<text transform="translate(502.7 383.5) scale(.93 1)">11</text>
<text transform="translate(533.2 383.0) scale(.93 1)">114</text>
<text transform="translate(530.2 386.0) scale(.93 1)">3</text>
<text transform="translate(483.2 398.5) scale(.93 1)">126</text>
<text transform="translate(466.8 390.8) scale(.93 1)">91</text>
<text transform="translate(474.4 392.2) scale(.93 1)">130</text>
<text transform="translate(470.8 407.8) scale(.93 1)">129</text>
<text transform="translate(529.7 396.0) scale(.93 1)">113</text>
<text transform="translate(528.2 405.0) scale(.93 1)">204</text>
<text transform="translate(531.8 404.3) scale(.93 1)">194</text>
<text transform="translate(520.6 411.3) scale(.93 1)">137</text>
<text transform="translate(520.6 420.2) scale(.93 1)">136</text>
<text transform="translate(523.8 430.3) scale(.93 1)">162</text>
<text transform="translate(519.0 426.4) scale(.93 1)">139</text>
<text transform="translate(499.2 449.2) scale(.93 1)">42</text>
<text transform="translate(528.2 295.0) scale(.93 1)">71</text>
<text transform="translate(524.2 302.0) scale(.93 1)">73</text>
<text transform="translate(526.2 289.0) scale(.93 1)">74</text>
<text transform="translate(544.2 199.0) scale(.93 1)">14</text>
<text transform="translate(551.2 203.0) scale(.93 1)">27</text>
<text transform="translate(548.2 215.0) scale(.93 1)">31</text>
<text transform="translate(541.2 230.0) scale(.93 1)">35</text>
<text transform="translate(539.2 240.0) scale(.93 1)">39</text>
<text transform="translate(538.2 204.0) scale(.93 1)">43</text>
<text transform="translate(538.7 219.5) scale(.93 1)">47</text>
<text transform="translate(540.7 246.5) scale(.93 1)">51</text>
<text transform="translate(541.2 247.0) scale(.93 1)">57</text>
<text transform="translate(542.2 265.0) scale(.93 1)">61</text>
<text transform="translate(537.2 285.0) scale(.93 1)">64</text>
<text transform="translate(535.2 302.5) scale(.93 1)">67</text>
<text transform="translate(535.2 304.0) scale(.93 1)">69</text>
</g>
</svg></body></html>
